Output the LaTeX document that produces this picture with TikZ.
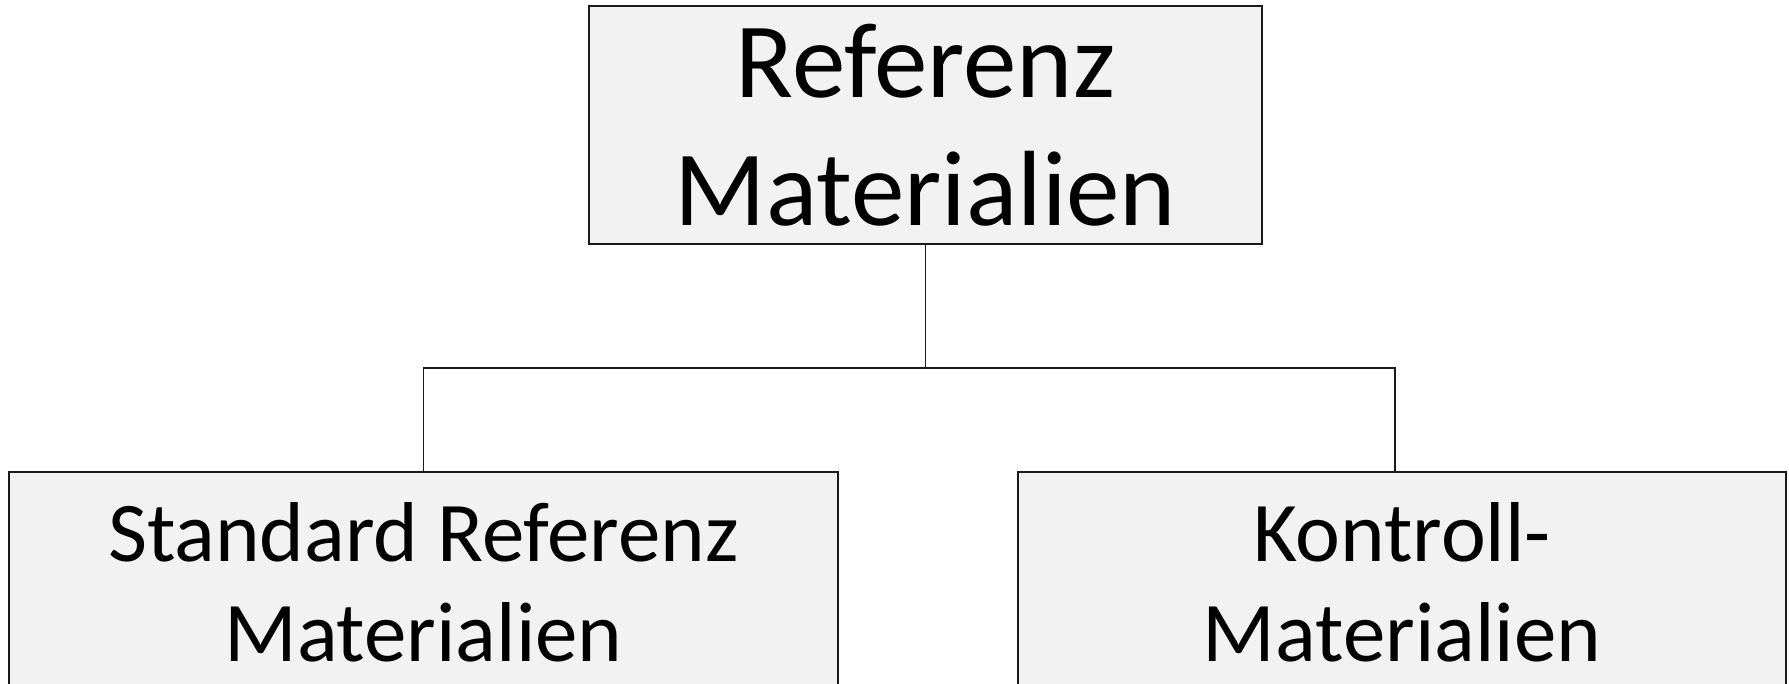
\documentclass[tikz,border=0pt]{standalone}
\usepackage{fontspec}
\setmainfont{Carlito}
\usetikzlibrary{calc}
\definecolor{boxfill}{HTML}{F2F2F2}
\definecolor{boxline}{HTML}{1A1A1A}
\tikzset{
  orgbox/.style={draw=boxline, fill=boxfill, line width=1.8pt, rectangle,
    inner sep=0pt, align=center, text=black},
  link/.style={draw=boxline, line width=1.8pt}
}
\begin{document}
\begin{tikzpicture}[x=1pt, y=-1pt]
  \useasboundingbox (0,0) rectangle (1789,683);
  % root
  \node[orgbox, minimum width=673pt, minimum height=238pt,
        font=\fontsize{107}{128}\selectfont] (top) at (925.5,125)
        {Referenz\\Materialien};
  % children
  \node[orgbox, minimum width=829pt, minimum height=220pt,
        font=\fontsize{85}{100}\selectfont] (l) at (423.5,582)
        {Standard Referenz\\Materialien};
  \node[orgbox, minimum width=768pt, minimum height=220pt,
        font=\fontsize{85}{100}\selectfont] (r) at (1402,582)
        {Kontroll-\\Materialien};
  % connectors
  \coordinate (bus) at ($(top.south)+(0,123)$);
  \coordinate (rdrop) at ($(r.north)+(-7,0)$);
  \draw[link] (top.south) -- (bus);
  \draw[link] (l.north) |- (bus) -| (rdrop);
\end{tikzpicture}
\end{document}
